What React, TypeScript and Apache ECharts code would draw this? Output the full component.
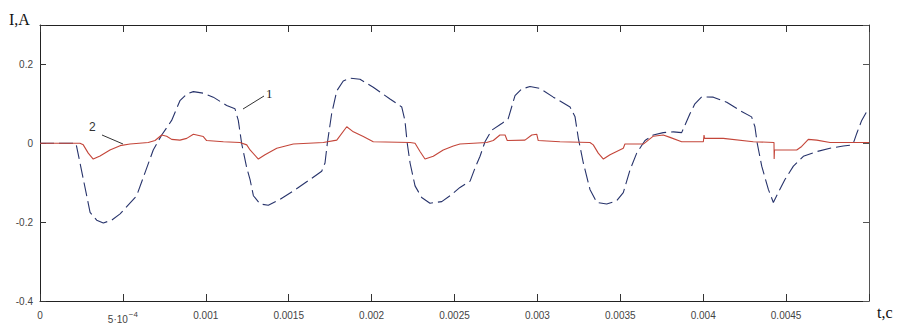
import React, { useEffect, useRef } from "react";
import * as echarts from "echarts";

// Curve 1 (dashed): time, s
const tDashed = [0, 0.000217, 0.000302, 0.000342, 0.000382, 0.000432, 0.000483, 0.000583, 0.000633, 0.000683, 0.000734, 0.000794, 0.000844, 0.000885, 0.000925, 0.000985, 0.001045, 0.001126, 0.001176, 0.001196, 0.001216, 0.001247, 0.001267, 0.001287, 0.001327, 0.001377, 0.001448, 0.001528, 0.001628, 0.001699, 0.001719, 0.001733, 0.001759, 0.00179, 0.001829, 0.00187, 0.00193, 0.00201, 0.002111, 0.002182, 0.002201, 0.002215, 0.002232, 0.002262, 0.002302, 0.002352, 0.002423, 0.002473, 0.002533, 0.002594, 0.002624, 0.002654, 0.002684, 0.002724, 0.002785, 0.002824, 0.002865, 0.002905, 0.002955, 0.003016, 0.003096, 0.003197, 0.003227, 0.003247, 0.003277, 0.003317, 0.003358, 0.003418, 0.003478, 0.003518, 0.003559, 0.003599, 0.003649, 0.003699, 0.003759, 0.00382, 0.00387, 0.00389, 0.00392, 0.00395, 0.003991, 0.004061, 0.004142, 0.004222, 0.004292, 0.004312, 0.004326, 0.004353, 0.004393, 0.004423, 0.004453, 0.004493, 0.004544, 0.004604, 0.004685, 0.004765, 0.004845, 0.004902, 0.004926, 0.004956, 0.004996];
// Curve 1 (dashed): current, A
const iDashed = [0, 0, -0.175, -0.195, -0.202, -0.195, -0.179, -0.133, -0.075, -0.017, 0.021, 0.058, 0.108, 0.125, 0.131, 0.127, 0.117, 0.096, 0.0875, 0.058, 0, -0.0625, -0.092, -0.133, -0.154, -0.157, -0.142, -0.121, -0.092, -0.071, -0.05, 0, 0.075, 0.133, 0.158, 0.165, 0.1625, 0.142, 0.1125, 0.092, 0.058, 0, -0.05, -0.108, -0.1375, -0.152, -0.148, -0.133, -0.112, -0.096, -0.0625, -0.033, 0.004, 0.033, 0.05, 0.0625, 0.121, 0.1375, 0.144, 0.139, 0.117, 0.092, 0.067, 0.0125, -0.05, -0.117, -0.15, -0.154, -0.146, -0.125, -0.067, -0.025, 0.007, 0.021, 0.027, 0.029, 0.027, 0.046, 0.075, 0.1, 0.118, 0.117, 0.104, 0.083, 0.067, 0.042, 0, -0.058, -0.117, -0.15, -0.125, -0.092, -0.058, -0.033, -0.021, -0.0125, -0.007, -0.004, 0.025, 0.058, 0.0875];

// Curve 2 (solid red)
const tSolid = [0, 0.000241, 0.000261, 0.000291, 0.000321, 0.000362, 0.000422, 0.000483, 0.000543, 0.000653, 0.000694, 0.000734, 0.000764, 0.000794, 0.000844, 0.000885, 0.000925, 0.000985, 0.001005, 0.001106, 0.001206, 0.001247, 0.001267, 0.001317, 0.001357, 0.001428, 0.001528, 0.001709, 0.00179, 0.00185, 0.00189, 0.00195, 0.00201, 0.002232, 0.002262, 0.002292, 0.002322, 0.002372, 0.002432, 0.002493, 0.002533, 0.002694, 0.002734, 0.002774, 0.002805, 0.002818, 0.002925, 0.002966, 0.002996, 0.003005, 0.003136, 0.003317, 0.003337, 0.003367, 0.003398, 0.003438, 0.003518, 0.003528, 0.003639, 0.003699, 0.003759, 0.0038, 0.00387, 0.004001, 0.004005, 0.004008, 0.004121, 0.004302, 0.004427, 0.004428, 0.00443, 0.004564, 0.004594, 0.004634, 0.004685, 0.004765, 0.005];
const iSolid = [0, 0, -0.004, -0.025, -0.04, -0.032, -0.017, -0.006, -0.002, 0.002, 0.007, 0.021, 0.018, 0.01, 0.008, 0.0125, 0.023, 0.017, 0.007, 0.004, 0.002, -0.004, -0.017, -0.04, -0.029, -0.0125, -0.002, 0.002, 0.008, 0.042, 0.029, 0.017, 0.004, 0.002, 0, -0.021, -0.04, -0.033, -0.017, -0.007, -0.002, 0.002, 0.007, 0.021, 0.021, 0.007, 0.008, 0.021, 0.023, 0.007, 0.004, 0.002, -0.004, -0.025, -0.04, -0.029, -0.0125, -0.002, -0.002, 0.018, 0.021, 0.015, 0.004, 0.004, 0.021, 0.0125, 0.0125, 0.004, 0.002, -0.04, -0.017, -0.017, -0.008, 0.01, 0.008, 0.002, 0.002];

const xTickLabels = ["0", "{a|5·10}{s|−4}", "0.001", "0.0015", "0.002", "0.0025", "0.003", "0.0035", "0.004", "0.0045", ""];
const yTickLabels: Record<string, string> = { "-0.4": "-0.4", "-0.2": "-0.2", "0": "0", "0.2": "0.2" };

const X_MIN = 0, X_MAX = 0.005, X_STEP = 0.0005;
const Y_MIN = -0.4, Y_MAX = 0.3, Y_STEP = 0.2;

export default function App() {
  const ref = useRef<HTMLDivElement>(null);
  useEffect(() => {
    document.body.style.margin = "0";
    const chart = echarts.init(ref.current!, null, { renderer: "svg" });
    const axisColor = "#333";
    const labelFont = "Liberation Sans, Arial, sans-serif";
    const dashedData = tDashed.map((t, i) => [t, iDashed[i]]);
    const solidData = tSolid.map((t, i) => [t, iSolid[i]]);
    chart.setOption({
      animation: false,
      backgroundColor: "#fff",
      grid: { left: 40, right: 30, top: 25, bottom: 19 },
      xAxis: [
        {
          type: "value", min: X_MIN, max: X_MAX, interval: X_STEP, position: "bottom",
          axisLine: { show: true, onZero: false, lineStyle: { color: "#222", width: 1 } },
          axisTick: { show: true, inside: true, length: 7, lineStyle: { color: axisColor } },
          splitLine: { show: false },
          axisLabel: {
            margin: 9, color: "#444", fontSize: 10, fontFamily: labelFont,
            formatter: (v: number) => xTickLabels[Math.round(v / X_STEP)] ?? "",
            rich: {
              a: { fontSize: 10, fontFamily: labelFont, color: "#444", verticalAlign: "bottom" },
              s: { fontSize: 8, fontFamily: labelFont, color: "#444", verticalAlign: "bottom", padding: [0, 0, 6, 1] },
            },
          },
        },
        {
          type: "value", min: X_MIN, max: X_MAX, interval: X_STEP, position: "top",
          axisLine: { show: true, onZero: false, lineStyle: { color: "#222", width: 1 } },
          axisTick: { show: true, inside: true, length: 7, lineStyle: { color: axisColor } },
          splitLine: { show: false }, axisLabel: { show: false },
        },
      ],
      yAxis: [
        {
          type: "value", min: Y_MIN, max: Y_MAX, interval: Y_STEP, position: "left",
          axisLine: { show: true, onZero: false, lineStyle: { color: "#222", width: 1 } },
          axisTick: { show: true, inside: true, length: 6, lineStyle: { color: axisColor } },
          splitLine: { show: false },
          axisLabel: {
            margin: 7, color: "#444", fontSize: 10, fontFamily: labelFont,
            formatter: (v: number) => yTickLabels[String(Math.round(v * 10) / 10)] ?? "",
          },
        },
        {
          type: "value", min: Y_MIN, max: Y_MAX, interval: Y_STEP, position: "right",
          axisLine: { show: true, onZero: false, lineStyle: { color: "#555", width: 1 } },
          axisTick: { show: true, inside: true, length: 6, lineStyle: { color: "#555" } },
          splitLine: { show: false }, axisLabel: { show: false },
        },
      ],
      series: [
        {
          name: "1", type: "line", xAxisIndex: 0, yAxisIndex: 0, data: dashedData,
          showSymbol: false, symbol: "none", silent: true,
          lineStyle: { color: "#27336b", width: 1.1, type: [14, 5] },
        },
        {
          name: "2", type: "line", xAxisIndex: 0, yAxisIndex: 0, data: solidData,
          showSymbol: false, symbol: "none", silent: true,
          lineStyle: { color: "#c4463a", width: 1.1 },
        },
      ],
      graphic: [
        { type: "text", left: 9, top: 11, style: { text: "I,A", font: "16px 'Liberation Serif', 'Times New Roman', serif", fill: "#111" } },
        { type: "text", left: 877, top: 304, style: { text: "t,c", font: "16px 'Liberation Serif', 'Times New Roman', serif", fill: "#111" } },
        { type: "line", shape: { x1: 243, y1: 109, x2: 264, y2: 96 }, style: { stroke: "#333", lineWidth: 1 } },
        { type: "text", left: 266, top: 87, style: { text: "1", font: "13px 'Liberation Serif', 'Times New Roman', serif", fill: "#222" } },
        { type: "line", shape: { x1: 102, y1: 135, x2: 123, y2: 144 }, style: { stroke: "#333", lineWidth: 1 } },
        { type: "text", left: 89, top: 121, style: { text: "2", font: "12px 'Liberation Sans', Arial, sans-serif", fill: "#333" } },
      ],
    });
    return () => chart.dispose();
  }, []);
  return <div ref={ref} style={{ width: 899, height: 324 }} />;
}
